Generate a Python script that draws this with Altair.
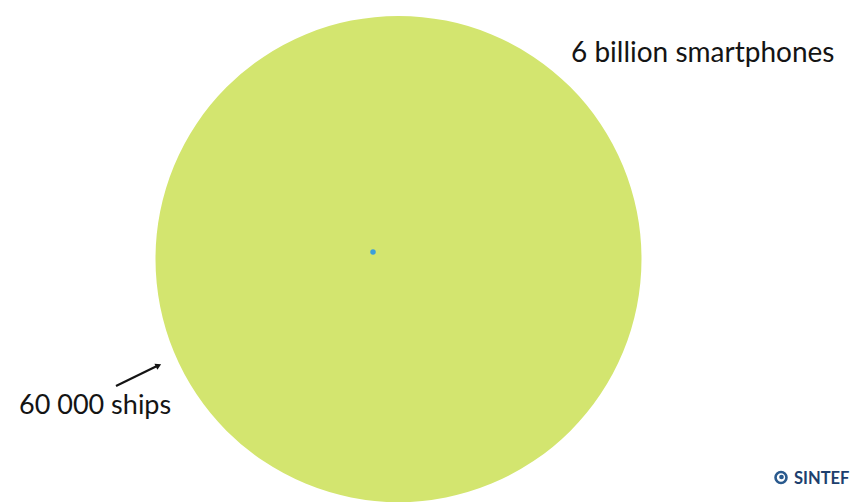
import altair as alt
import pandas as pd

# ---- data ----
categories = ["6 billion smartphones", "60 000 ships"]
counts = [6_000_000_000, 60_000]
label_texts = ["6 billion smartphones", "60 000 ships"]
logo_text = ["SINTEF"]

GREEN = "#d3e56f"
BLUE = "#3a9fdc"
INK = "#141414"
NAVY = "#1d3f6e"

W, H = 845, 495  # page area (window minus the 8px body margin)

df = pd.DataFrame({"category": categories, "count": counts})

size_scale = alt.Scale(type="log", domain=[min(counts), max(counts)], range=[30, 486 ** 2])
color_scale = alt.Scale(domain=categories, range=[GREEN, BLUE])

big = (
    alt.Chart(df)
    .transform_filter(alt.datum.category == categories[0])
    .mark_circle(opacity=1)
    .encode(
        x=alt.value(390.5),
        y=alt.value(251),
        size=alt.Size("count:Q", scale=size_scale, legend=None),
        color=alt.Color("category:N", scale=color_scale, legend=None),
    )
)
small = (
    alt.Chart(df)
    .transform_filter(alt.datum.category == categories[1])
    .mark_circle(opacity=1)
    .encode(
        x=alt.value(365),
        y=alt.value(244),
        size=alt.Size("count:Q", scale=size_scale, legend=None),
        color=alt.Color("category:N", scale=color_scale, legend=None),
    )
)

lab_df = pd.DataFrame({"label": label_texts})
label_big = (
    alt.Chart(lab_df)
    .transform_filter(alt.datum.label == label_texts[0])
    .mark_text(align="left", baseline="alphabetic", font="Lato", fontSize=28, color=INK)
    .encode(x=alt.value(563), y=alt.value(54), text="label:N")
)
label_small = (
    alt.Chart(lab_df)
    .transform_filter(alt.datum.label == label_texts[1])
    .mark_text(align="left", baseline="alphabetic", font="Lato", fontSize=27, color=INK)
    .encode(x=alt.value(11), y=alt.value(405.5), text="label:N")
)

arrow_line = (
    alt.Chart(lab_df.head(1))
    .mark_rule(color=INK, strokeWidth=2.2)
    .encode(x=alt.value(108), x2=alt.value(150), y=alt.value(378), y2=alt.value(357.5))
)
arrow_head = (
    alt.Chart(lab_df.head(1))
    .mark_point(shape="triangle-up", filled=True, opacity=1, color=INK, size=45, angle=64)
    .encode(x=alt.value(150.5), y=alt.value(357.5))
)

logo_df = pd.DataFrame({"t": logo_text})
logo_ring = (
    alt.Chart(logo_df)
    .mark_point(shape="circle", filled=False, opacity=1, color="#2a5a8e", strokeWidth=2.6, size=120)
    .encode(x=alt.value(773), y=alt.value(469.5))
)
logo_dot = (
    alt.Chart(logo_df)
    .mark_point(shape="circle", filled=True, opacity=1, color="#2a5a8e", size=22)
    .encode(x=alt.value(773.5), y=alt.value(469))
)
logo = (
    alt.Chart(logo_df)
    .mark_text(align="left", baseline="alphabetic", font="Lato", fontWeight="bold", fontSize=16.5, color=NAVY)
    .encode(x=alt.value(786), y=alt.value(475.5), text="t:N")
)

chart = (
    alt.layer(big, small, arrow_line, arrow_head, label_big, label_small, logo_ring, logo_dot, logo)
    .properties(width=W, height=H, autosize=alt.AutoSizeParams(type="none"), padding=0, background="white")
    .configure_view(stroke=None)
)

chart.save("out.html", embed_options={"renderer": "svg", "actions": False})
